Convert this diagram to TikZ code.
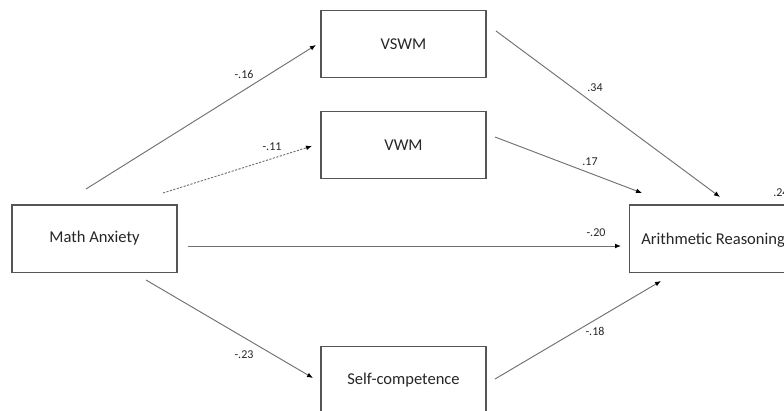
\documentclass[tikz,border=0pt]{standalone}
\usepackage{fontspec}
\setmainfont{Carlito}
\usetikzlibrary{arrows.meta}
\definecolor{boxline}{HTML}{555555}
\definecolor{arrline}{HTML}{707070}
\definecolor{txt}{HTML}{262626}
\begin{document}
\begin{tikzpicture}[x=0.75pt,y=-0.75pt,
  box/.style={draw=boxline,line width=1.1pt,fill=white,minimum width=123.75pt,minimum height=50.6pt,inner sep=0pt,font=\fontsize{12.4}{14}\selectfont,text=txt},
  path/.style={draw=arrline,line width=0.7pt,-{Latex[length=4.5pt,width=3.6pt,color=black]}},
  dotpath/.style={path,dash pattern=on 1.6pt off 1.1pt},
  coef/.style={font=\fontsize{9}{10}\selectfont,text=txt,inner sep=0pt}]
\path[use as bounding box] (0,0) rectangle (784,410);
\clip (0,0) rectangle (784,410);
\fill[white] (0,0) rectangle (784,410);
% boxes
\node[box] (ma) at (94.5,238.5) {Math Anxiety};
\node[box] (vswm) at (403.5,44) {VSWM};
\node[box] (vwm) at (403.5,145) {VWM};
\node[box] (sc) at (403.5,380) {Self-competence};
\node[box,anchor=west] (ar) at (629,238.5) {};
\node[font=\fontsize{12.4}{14}\selectfont,text=txt,anchor=west,inner sep=0pt] (artext) at (641,240) {Arithmetic Reasoning};
% endpoints
\coordinate (a1s) at (86,189);   \coordinate (a1e) at (316,45);
\coordinate (a2s) at (163,193);  \coordinate (a2e) at (312,146);
\coordinate (a3s) at (496,31);   \coordinate (a3e) at (720,197);
\coordinate (a4s) at (495,137);  \coordinate (a4e) at (642,193);
\coordinate (a5s) at (188,246);  \coordinate (a5e) at (621,246);
\coordinate (a6s) at (146,280);  \coordinate (a6e) at (313,378);
\coordinate (a7s) at (495,379);  \coordinate (a7e) at (661,281);
% connectors
\draw[path] (a1s) -- (a1e);
\draw[dotpath] (a2s) -- (a2e);
\draw[path] (a3s) -- (a3e);
\draw[path] (a4s) -- (a4e);
\draw[path] (a5s) -- (a5e);
\draw[path] (a6s) -- (a6e);
\draw[path] (a7s) -- (a7e);
% coefficients
\node[coef] (c1) at (244,74) {-.16};
\node[coef] (c2) at (272,147) {-.11};
\node[coef] (c3) at (595,88) {.34};
\node[coef] (c4) at (590,162) {.17};
\node[coef] (c5) at (596,233) {-.20};
\node[coef] (c6) at (244,355) {-.23};
\node[coef] (c7) at (595,331) {-.18};
\node[coef,anchor=west] (c8) at (773,193) {.24};
\end{tikzpicture}
\end{document}
